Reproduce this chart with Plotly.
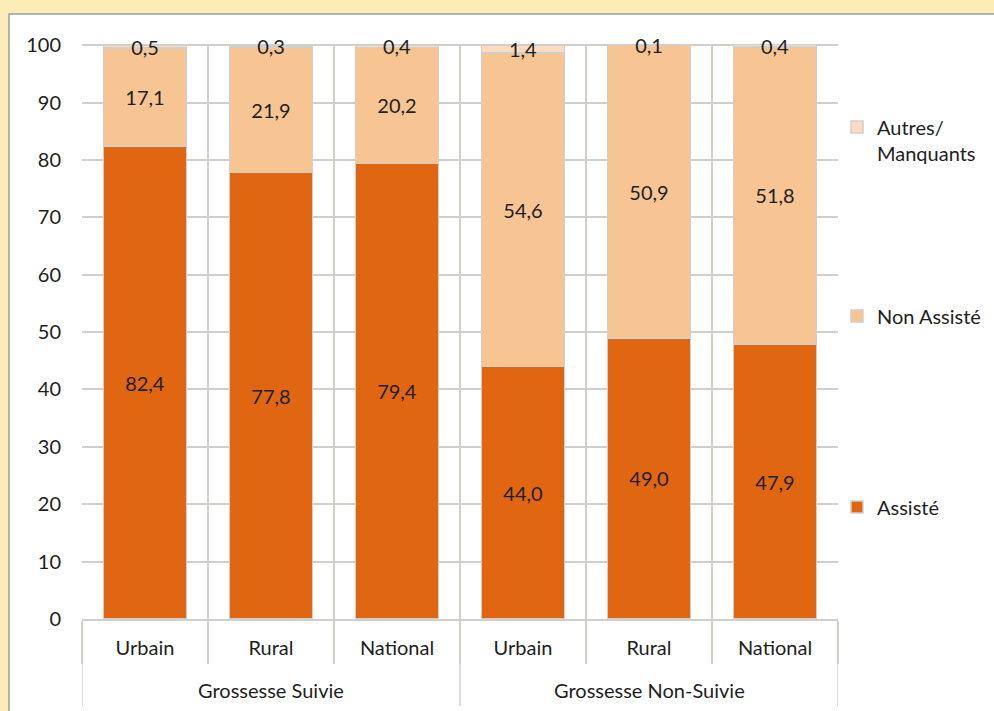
import plotly.graph_objects as go

# Données : accouchement assisté selon le suivi de la grossesse et le milieu
groupes = ["Grossesse Suivie"] * 3 + ["Grossesse Non-Suivie"] * 3
milieux = ["Urbain", "Rural", "National"] * 2
assiste = [82.4, 77.8, 79.4, 44.0, 49.0, 47.9]
non_assiste = [17.1, 21.9, 20.2, 54.6, 50.9, 51.8]
autres = [0.5, 0.3, 0.4, 1.4, 0.1, 0.4]

noms = ["Assisté", "Non Assisté", "Autres/<br>Manquants"]
couleurs = ["#E06612", "#F7C594", "#FBDCC2"]
legendes = ["legend", "legend2", "legend3"]

GRIS = "#D2CECA"
TEXTE = "#1E1E1E"
POLICE = "Lato, 'Open Sans', sans-serif"
TAILLE = 20

# Marges du cadre de tracé (en pixels)
L, R, T, B = 82, 156, 44, 92
W, H = 994, 711
pw, ph = W - L - R, H - T - B
YMAX = 100.2

pos = list(range(len(milieux)))


def fmt(v):
    return f"{v:.1f}".replace(".", ",")


fig = go.Figure()
for nom, vals, coul, leg in zip(noms, [assiste, non_assiste, autres], couleurs, legendes):
    fig.add_trace(go.Bar(
        x=pos,
        y=vals,
        name=nom,
        legend=leg,
        marker=dict(color=coul, line=dict(color=GRIS, width=1.5)),
        text=[fmt(v) for v in vals],
        textposition="inside",
        insidetextanchor="middle",
        textangle=0,
        constraintext="none",
        cliponaxis=False,
        insidetextfont=dict(family=POLICE, size=TAILLE, color=TEXTE),
        width=0.66,
        hoverinfo="skip",
    ))

# Panneau blanc bordé sur fond jaune
fig.add_shape(
    type="rect", xref="paper", yref="paper", layer="below",
    x0=(9 - L) / pw, x1=(W + 20 - L) / pw,
    y0=-(H + 20 - T - ph) / ph, y1=(T + ph - 14) / ph,
    fillcolor="white", line=dict(color="#9C9C9C", width=1.5),
)

# Regroupement des catégories : séparateurs et libellés de groupe
bornes = [-0.5]
for i in range(1, len(groupes)):
    if groupes[i] != groupes[i - 1]:
        bornes.append(i - 0.5)
bornes.append(len(groupes) - 0.5)

y_sep = -(706 - (T + ph)) / ph
y_grp = -(690 - (T + ph)) / ph
for b in bornes:
    fig.add_shape(
        type="line", xref="x", yref="paper", x0=b, x1=b, y0=0, y1=y_sep,
        line=dict(color=GRIS, width=1.5),
    )
for g0, g1 in zip(bornes[:-1], bornes[1:]):
    nom_grp = groupes[int(g0 + 0.5)]
    fig.add_annotation(
        x=(g0 + g1) / 2, xref="x", y=y_grp, yref="paper",
        text=nom_grp, showarrow=False, yanchor="middle",
        font=dict(family=POLICE, size=TAILLE, color=TEXTE),
    )


def ly(py):
    return (T + ph - py) / ph


leg_common = dict(
    xanchor="left", x=(837 - L) / pw, yanchor="middle",
    bgcolor="rgba(0,0,0,0)", font=dict(family=POLICE, size=TAILLE, color=TEXTE),
    valign="top",
)

fig.update_layout(
    width=W, height=H,
    barmode="stack",
    paper_bgcolor="#FDECB6",
    plot_bgcolor="white",
    margin=dict(l=L, r=R, t=T, b=B, pad=0, autoexpand=False),
    font=dict(family=POLICE, size=TAILLE, color=TEXTE),
    uniformtext=dict(minsize=TAILLE, mode="show"),
    showlegend=True,
    legend=dict(**leg_common, y=ly(507)),
    legend2=dict(**leg_common, y=ly(316)),
    legend3=dict(**leg_common, y=ly(140)),
    xaxis=dict(
        range=[-0.5, len(milieux) - 0.5],
        tickvals=pos, ticktext=milieux,
        showgrid=False, ticks="",
        showline=True, linecolor=GRIS, linewidth=1.5,
        ticklabelstandoff=10,
        minor=dict(
            tickvals=[i - 0.5 for i in range(len(milieux) + 1)],
            showgrid=True, gridcolor=GRIS, gridwidth=1.5,
            ticks="outside", ticklen=43, tickcolor=GRIS, tickwidth=1.5,
        ),
        zeroline=False,
        tickfont=dict(family=POLICE, size=TAILLE, color=TEXTE),
    ),
    yaxis=dict(
        range=[0, YMAX], dtick=10,
        showgrid=True, gridcolor=GRIS, gridwidth=1.5,
        zeroline=False, showline=False,
        ticklabelstandoff=20,
        tickfont=dict(family=POLICE, size=TAILLE, color=TEXTE),
    ),
)

fig.write_html("out.html")
